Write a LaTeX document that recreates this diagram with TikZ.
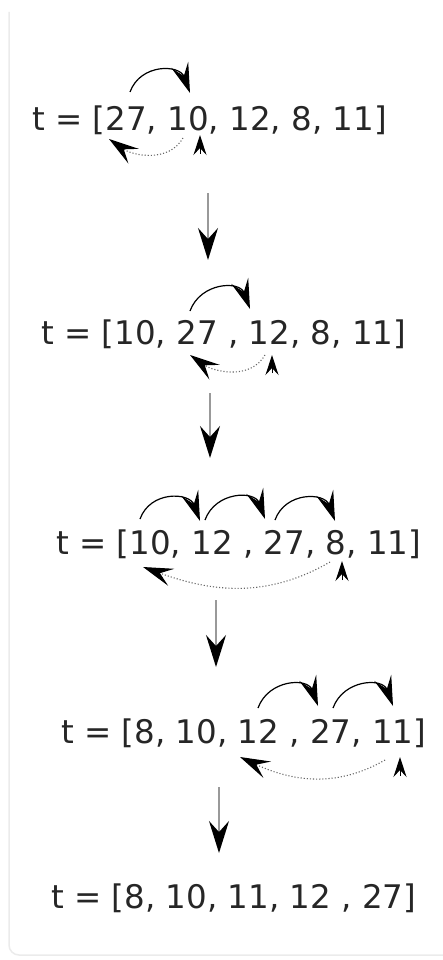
\documentclass[tikz,border=0pt]{standalone}
\usepackage{fontspec}
\setmainfont{DejaVu Sans}
\usetikzlibrary{arrows.meta}

\begin{document}
\begin{tikzpicture}[
    x=1pt, y=-1pt,
    row/.style={anchor=base west, inner sep=0pt, text=black!85,
      font=\fontsize{32.5}{39}\selectfont},
    swap/.style={line width=1.2pt,
      -{Stealth[length=30pt, width=18pt, inset=12pt]}},
    back/.style={line width=1.1pt, black!60, dotted,
      -{Stealth[length=30pt, width=18pt, inset=12pt, color=black]}},
    pick/.style={line width=1pt, -{Stealth[length=20pt, width=13pt, inset=7pt]}},
    down/.style={line width=1.6pt, black!40,
      -{Stealth[length=32pt, width=20pt, inset=11pt, color=black]}},
  ]
    \useasboundingbox (0,0) rectangle (443,960);
    % card edge
    \draw[black!8, line width=1.5pt, rounded corners=10pt] (9,12) -- (9,955) -- (443,955);
    % rows
    \node[row] (r1) at (32,131) {t = [27, 10, 12, 8, 11]};
    \node[row] (r2) at (41,344) {t = [10, 27 , 12, 8, 11]};
    \node[row] (r3) at (56,554) {t = [10, 12 , 27, 8, 11]};
    \node[row] (r4) at (61,743) {t = [8, 10, 12 , 27, 11]};
    \node[row] (r5) at (51,908) {t = [8, 10, 11, 12 , 27]};
    % end points
    \coordinate (d1a) at (208,193); \coordinate (d1b) at (208,260);
    \coordinate (d2a) at (210,393); \coordinate (d2b) at (210,458);
    \coordinate (d3a) at (216,600); \coordinate (d3b) at (216,667);
    \coordinate (d4a) at (219,787); \coordinate (d4b) at (219,853);
    \coordinate (s1a) at (130,92);  \coordinate (s1b) at (190,93);
    \coordinate (b1a) at (183,138); \coordinate (b1b) at (109,139);
    \coordinate (p1a) at (200,154); \coordinate (p1b) at (200,135);
    \coordinate (s2a) at (190,311); \coordinate (s2b) at (250,309);
    \coordinate (b2a) at (265,355); \coordinate (b2b) at (190,355);
    \coordinate (p2a) at (272,373); \coordinate (p2b) at (272,355);
    \coordinate (s3a) at (140,519); \coordinate (s3b) at (200,521);
    \coordinate (s3c) at (205,520); \coordinate (s3d) at (265,519);
    \coordinate (s3e) at (275,520); \coordinate (s3f) at (335,521);
    \coordinate (b3a) at (330,562); \coordinate (b3b) at (143,567);
    \coordinate (p3a) at (342,580); \coordinate (p3b) at (342,561);
    \coordinate (s4a) at (258,708); \coordinate (s4b) at (318,706);
    \coordinate (s4c) at (333,708); \coordinate (s4d) at (393,706);
    \coordinate (b4a) at (385,760); \coordinate (b4b) at (240,757);
    \coordinate (p4a) at (400,776); \coordinate (p4b) at (400,757);
    % steps
    \draw[down] (d1a) -- (d1b);
    \draw[down] (d2a) -- (d2b);
    \draw[down] (d3a) -- (d3b);
    \draw[down] (d4a) -- (d4b);
    % row 1
    \draw[swap] (s1a) to[out=70, in=110, looseness=1.3] (s1b);
    \draw[back] (b1a) to[out=-120, in=-35] (b1b);
    \draw[pick] (p1a) -- (p1b);
    % row 2
    \draw[swap] (s2a) to[out=70, in=110, looseness=1.3] (s2b);
    \draw[back] (b2a) to[out=-120, in=-35] (b2b);
    \draw[pick] (p2a) -- (p2b);
    % row 3
    \draw[swap] (s3a) to[out=70, in=110, looseness=1.3] (s3b);
    \draw[swap] (s3c) to[out=70, in=110, looseness=1.3] (s3d);
    \draw[swap] (s3e) to[out=70, in=110, looseness=1.3] (s3f);
    \draw[back] (b3a) to[out=-150, in=-20] (b3b);
    \draw[pick] (p3a) -- (p3b);
    % row 4
    \draw[swap] (s4a) to[out=70, in=110, looseness=1.3] (s4b);
    \draw[swap] (s4c) to[out=70, in=110, looseness=1.3] (s4d);
    \draw[back] (b4a) to[out=-150, in=-25] (b4b);
    \draw[pick] (p4a) -- (p4b);
  \end{tikzpicture}
\end{document}
